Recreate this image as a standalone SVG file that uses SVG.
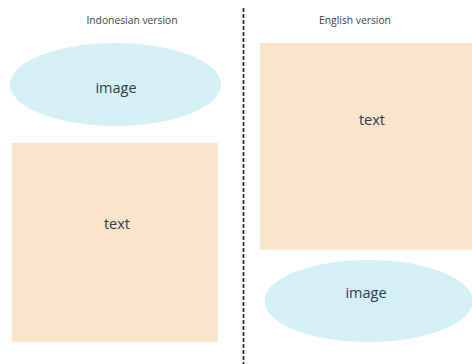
<svg xmlns="http://www.w3.org/2000/svg" width="472" height="364" viewBox="0 0 472 364">
<style>
.img{fill:#d6f1f5}
.txt{fill:#f9e4cc}
.lbl{font-family:"Open Sans","Liberation Sans",sans-serif;font-size:14.5px;fill:#2f3a52;text-anchor:middle}
.ttl{font-family:"Open Sans","Liberation Sans",sans-serif;font-size:10.3px;fill:#3a4458;text-anchor:middle}
</style>
<rect width="472" height="364" fill="#ffffff"/>
<text class="ttl" x="132" y="24">Indonesian version</text>
<text class="ttl" x="355" y="24">English version</text>
<g id="connectors">
<line x1="243.5" y1="8" x2="243.5" y2="364" stroke="#1f1f1f" stroke-width="1.6" stroke-dasharray="4 2"/>
</g>
<g id="indo-image">
<ellipse class="img" cx="115.5" cy="84.5" rx="105.5" ry="41.5"/>
<text class="lbl" x="116" y="93">image</text>
</g>
<g id="indo-text">
<rect class="txt" x="12" y="143" width="206" height="199"/>
<text class="lbl" x="117" y="229">text</text>
</g>
<g id="eng-text">
<rect class="txt" x="260" y="43" width="212" height="207"/>
<text class="lbl" x="372" y="125">text</text>
</g>
<g id="eng-image">
<ellipse class="img" cx="368.5" cy="301" rx="104" ry="41"/>
<text class="lbl" x="366" y="298">image</text>
</g>
</svg>
